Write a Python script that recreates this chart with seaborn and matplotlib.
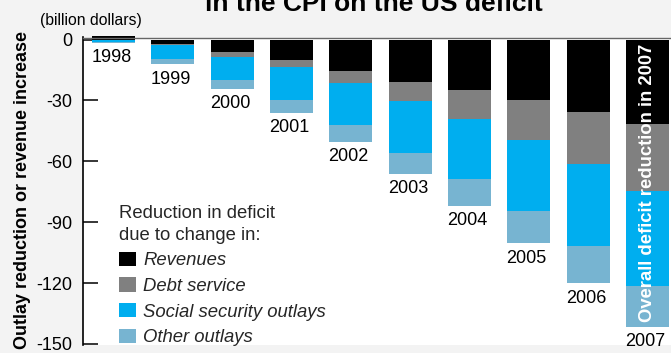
import numpy as np
import pandas as pd
import matplotlib
matplotlib.use("Agg")
import matplotlib.pyplot as plt
from matplotlib.patches import Patch
import seaborn as sns

# ---- data (billion dollars; negative = reduction in deficit shown downward) ----
years = ["1998", "1999", "2000", "2001", "2002", "2003", "2004", "2005", "2006", "2007"]
revenues = [1.5, -2.0, -6.3, -9.9, -15.3, -20.8, -24.8, -29.7, -35.6, -41.6]
debt_service = [0.0, -0.5, -2.1, -3.8, -6.3, -9.7, -14.4, -19.7, -25.6, -33.2]
social_security = [-1.0, -6.9, -11.4, -16.0, -20.4, -25.4, -29.7, -35.3, -40.7, -46.5]
other_outlays = [-0.5, -2.8, -4.5, -6.3, -8.3, -10.2, -13.2, -15.7, -18.2, -20.1]
series_names = ["Revenues", "Debt service", "Social security outlays", "Other outlays"]
series_colors = ["#000000", "#808080", "#00AEEF", "#77B4D1"]
yticks = [0, -30, -60, -90, -120, -150]

sns.set_style("white")
plt.rcParams["font.family"] = ["Liberation Sans", "DejaVu Sans"]

W, H = 671, 353
fig = plt.figure(figsize=(W / 100, H / 100), dpi=100, facecolor="#f3f3f3")
ax = fig.add_axes([83 / W, 8 / H, (W - 83) / W, (345 - 37.5) / H])
ax.set_facecolor("white")

df = pd.DataFrame({
    "year": years,
    "Revenues": revenues,
    "Debt service": debt_service,
    "Social security outlays": social_security,
    "Other outlays": other_outlays,
})

n = len(years)
pos_base = np.zeros(n)
neg_base = np.zeros(n)
for name, color in zip(series_names, series_colors):
    vals = df[name].to_numpy(dtype=float)
    bottoms = np.where(vals >= 0, pos_base, neg_base)
    sns.barplot(data=df, x="year", y=name, order=years, bottom=bottoms,
                color=color, saturation=1, width=0.725, errorbar=None,
                linewidth=0, ax=ax)
    pos_base += np.clip(vals, 0, None)
    neg_base += np.clip(vals, None, 0)

for p in ax.patches:
    p.set_clip_on(False)

ax.set_xlim(-0.514, 9.397)
ax.set_ylim(-150.5, 1.0)
ax.set_xticks([])
ax.set_xlabel("")
ax.set_yticks(yticks)
ax.set_yticklabels([str(t) for t in yticks])
ax.tick_params(axis="y", direction="in", length=10.5, width=1.1, pad=8,
               labelsize=13, colors="black", left=True)

for s in ["right", "bottom"]:
    ax.spines[s].set_visible(False)
ax.spines["top"].set_color("#666666")
ax.spines["top"].set_linewidth(1.0)
ax.spines["left"].set_color("black")
ax.spines["left"].set_linewidth(1.2)

# year labels under each bar
for i, y in enumerate(years):
    ax.annotate(y, xy=(i, neg_base[i]), xytext=(-1.5, -4.5),
                textcoords="offset points", ha="center", va="top",
                fontsize=13, color="black")

# text inside the 2007 bar
ax.text(9, -70.4, "Overall deficit reduction in 2007", rotation=90,
        ha="center", va="center", color="white", fontweight="bold",
        fontsize=13.3)

ax.set_ylabel("Outlay reduction or revenue increase", fontsize=13,
              fontweight="bold", color="black")
ax.yaxis.set_label_coords(-0.088, 0.505)

handles = [Patch(facecolor=c, edgecolor="none", label=nm)
           for nm, c in zip(series_names, series_colors)]
leg = ax.legend(handles=handles, title="Reduction in deficit\ndue to change in:",
                loc="upper left", bbox_to_anchor=(119 / W, 1 - 205 / H),
                bbox_transform=fig.transFigure, frameon=False,
                prop={"style": "italic", "size": 13.3}, title_fontsize=13.3,
                handlelength=0.9, handleheight=0.81, handletextpad=0.4,
                labelspacing=0.44, borderpad=0, borderaxespad=0,
                alignment="left")
leg.get_title().set_linespacing(1.35)

fig.text(40 / W, 1 - 21 / H, "(billion dollars)", ha="left", va="center",
         fontsize=11.3, color="black")
fig.text(374 / W, 1 - 10.7 / H, "in the CPI on the US deficit", ha="center",
         va="baseline", fontsize=19, fontweight="bold", color="black")

fig.savefig("out.png", dpi=100, facecolor=fig.get_facecolor())
